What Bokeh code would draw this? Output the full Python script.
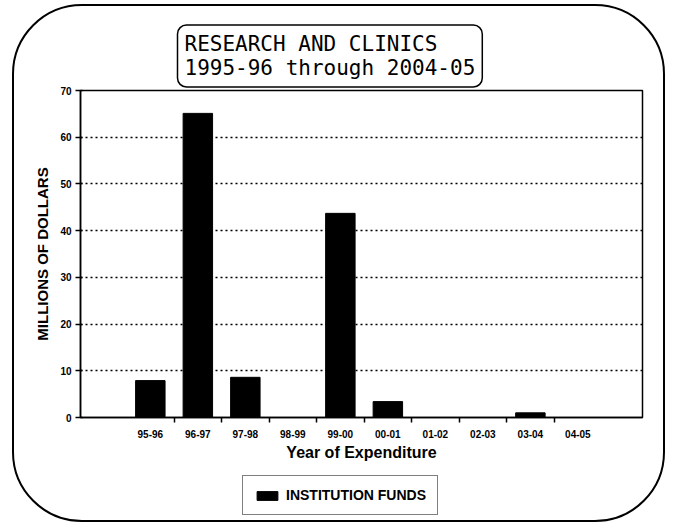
from bokeh.plotting import figure
from bokeh.layouts import column
from bokeh.models import ColumnDataSource, FixedTicker, Legend, LegendItem, Title
from bokeh.embed import file_html
from bokeh.resources import INLINE

# ---- data ----
years = ["95-96", "96-97", "97-98", "98-99", "99-00", "00-01", "01-02", "02-03", "03-04", "04-05"]
institution_funds = [7.9, 65.1, 8.6, 0.0, 43.7, 3.4, 0.0, 0.0, 1.0, 0.0]
y_ticks = [0, 10, 20, 30, 40, 50, 60, 70]
title_lines = ["RESEARCH AND CLINICS", "1995-96 through 2004-05"]
series_name = "INSTITUTION FUNDS"

xs = list(range(len(years)))
src = ColumnDataSource(data=dict(x=xs, top=institution_funds, year=years))

p = figure(width=649, height=462, x_range=(-1.47, 10.36), y_range=(0, 70),
           output_backend="svg", toolbar_location=None,
           min_border_left=66, min_border_right=21, min_border_top=84, min_border_bottom=51)

r = p.vbar(x="x", top="top", width=0.62, source=src,
           fill_color="black", line_color="black")

# title box
t = Title(text="\n".join(title_lines), align="left", offset=97,
          text_font="DejaVu Sans Mono", text_font_size="21px", text_font_style="normal",
          text_color="black", border_line_color="black", border_line_width=1.5,
          background_fill_color="white", padding=7, border_radius=9, standoff=7)
p.title = t

# frame
p.outline_line_color = "black"
p.outline_line_width = 1.5
p.background_fill_alpha = 0
p.border_fill_alpha = 0

# x axis
p.xaxis.ticker = FixedTicker(ticks=xs, minor_ticks=[i + 0.5 for i in xs[:-1]])
p.xaxis.major_label_overrides = {i: y for i, y in zip(xs, years)}
p.xaxis.major_tick_line_color = None
p.xaxis.minor_tick_out = 5
p.xaxis.minor_tick_in = 0
p.xaxis.minor_tick_line_color = "black"
p.xaxis.minor_tick_line_width = 1.5
p.xaxis.axis_line_width = 1.5
p.xaxis.axis_line_color = "black"
p.xaxis.major_label_text_font = "Liberation Sans"
p.xaxis.major_label_text_font_style = "bold"
p.xaxis.major_label_text_font_size = "10px"
p.xaxis.major_label_text_color = "black"
p.xaxis.major_label_standoff = 6
p.xaxis.axis_label = "Year of Expenditure"
p.xaxis.axis_label_text_font = "Liberation Sans"
p.xaxis.axis_label_text_font_style = "bold"
p.xaxis.axis_label_text_font_size = "16px"
p.xaxis.axis_label_text_color = "black"
p.xaxis.axis_label_standoff = 3

# y axis
p.yaxis.ticker = FixedTicker(ticks=y_ticks, minor_ticks=[])
p.yaxis.major_tick_out = 5
p.yaxis.major_tick_in = 2
p.yaxis.major_tick_line_width = 1.5
p.yaxis.major_tick_line_color = "black"
p.yaxis.axis_line_width = 1.5
p.yaxis.axis_line_color = "black"
p.yaxis.major_label_text_font = "Liberation Sans"
p.yaxis.major_label_text_font_style = "bold"
p.yaxis.major_label_text_font_size = "10px"
p.yaxis.major_label_text_color = "black"
p.yaxis.major_label_standoff = 4
p.yaxis.axis_label = "MILLIONS OF DOLLARS"
p.yaxis.axis_label_text_font = "Liberation Sans"
p.yaxis.axis_label_text_font_style = "bold"
p.yaxis.axis_label_text_font_size = "15px"
p.yaxis.axis_label_text_color = "black"
p.yaxis.axis_label_standoff = 6

# grid
p.xgrid.grid_line_color = None
p.ygrid.grid_line_color = "black"
p.ygrid.grid_line_dash = "2 3"
p.ygrid.grid_line_width = 1.5

# ---- legend strip under the chart (frames are aligned by the column) ----
pl = figure(width=649, height=52, x_range=(-1.47, 10.36), y_range=(1000, 1001),
            x_axis_type=None, y_axis_type=None,
            output_backend="svg", toolbar_location=None, min_border=0)
pl.outline_line_color = None
pl.xgrid.grid_line_color = None
pl.ygrid.grid_line_color = None
pl.background_fill_alpha = 0
pl.border_fill_alpha = 0
rl = pl.vbar(x="x", top="top", width=0.62, source=src,
             fill_color="black", line_color="black")

legend = Legend(items=[LegendItem(label=series_name, renderers=[rl])],
                location=(162, 5), orientation="horizontal",
                border_line_color="black", border_line_width=1.5,
                background_fill_color="white",
                label_text_font="Liberation Sans", label_text_font_style="bold",
                label_text_font_size="14px", label_text_color="black",
                glyph_width=26, glyph_height=11, padding=11, margin=0,
                label_standoff=6)
pl.add_layout(legend)

layout = column(p, pl, spacing=0,
                styles={"border": "2px solid black", "border-radius": "70px",
                        "margin-left": "12px", "margin-top": "4px",
                        "background-color": "white"})

open("out.html", "w").write(file_html(layout, INLINE))
